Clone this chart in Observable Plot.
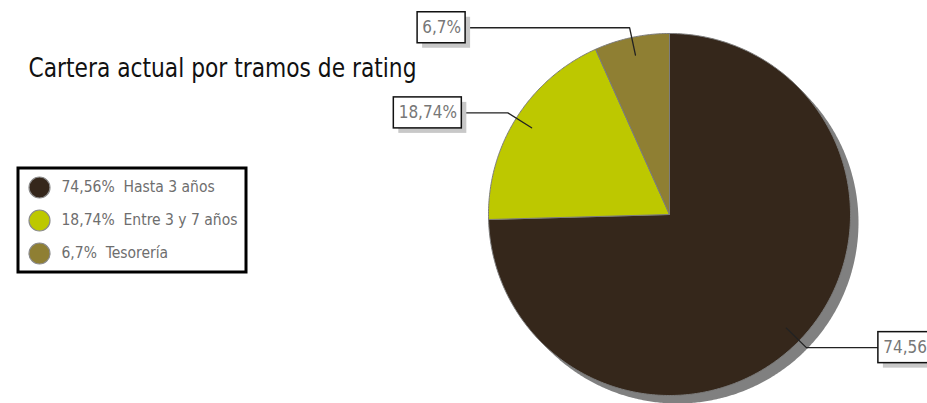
<!DOCTYPE html>
<html>
<head>
<meta charset="utf-8">
<script src="https://cdn.jsdelivr.net/npm/d3@7"></script>
<script src="https://cdn.jsdelivr.net/npm/@observablehq/plot@0.6"></script>
<style>
  html, body { margin: 0; padding: 0; background: #fff; }
  #chart { width: 927px; height: 403px; overflow: hidden; }
</style>
</head>
<body>
<div id="chart"></div>
<script>
// ---- data ----
const title = "Cartera actual por tramos de rating";
const categories = ["Hasta 3 años", "Entre 3 y 7 años", "Tesorería"];
const values = [74.56, 18.74, 6.7];
const valueLabels = ["74,56%", "18,74%", "6,7%"];
const colors = ["#35271b", "#bdc800", "#8f7f33"];

// ---- layout ----
const W = 927, H = 403;
const cx = 669, cy = 214, R = 181;
const leaderLen = [72, 46, 164];          // horizontal leader length
const leaderSide = [1, -1, -1];           // label on right (+1) or left (-1)
const boxW = [68, 68, 48], boxH = 31;
const font = "'DejaVu Sans Condensed', 'Open Sans', sans-serif";

const total = d3.sum(values);
let acc = 0;
const slices = values.map((v, i) => {
  const a0 = acc / total * 2 * Math.PI;
  acc += v;
  const a1 = acc / total * 2 * Math.PI;
  return {cat: categories[i], value: v, label: valueLabels[i], a0, a1, mid: (a0 + a1) / 2, i};
});
const pt = (a, r) => ({x: cx + r * Math.sin(a), y: cy - r * Math.cos(a)});

// slice polygons
const slicePts = [];
for (const s of slices) {
  const n = Math.max(2, Math.ceil((s.a1 - s.a0) / (Math.PI / 360)));
  slicePts.push({cat: s.cat, ...pt(0, 0)});
  for (let k = 0; k <= n; k++) slicePts.push({cat: s.cat, ...pt(s.a0 + (s.a1 - s.a0) * k / n, R)});
  slicePts.push({cat: s.cat, ...pt(0, 0)});
}
// shadow disc
const shadowPts = d3.range(0, 721).map(k => pt(k / 720 * 2 * Math.PI, R));

// leaders and label boxes
const leaderPts = [], boxes = [];
for (const s of slices) {
  const p0 = pt(s.mid, R * 0.9), p1 = pt(s.mid, R * 1.055);
  const ex = p1.x + leaderSide[s.i] * leaderLen[s.i];
  leaderPts.push({cat: s.cat, ...p0}, {cat: s.cat, ...p1}, {cat: s.cat, x: ex, y: p1.y});
  const x1 = leaderSide[s.i] > 0 ? ex : ex - boxW[s.i];
  const x2 = x1 + boxW[s.i];
  boxes.push({label: s.label, x1, x2, y1: p1.y - boxH / 2, y2: p1.y + boxH / 2, xm: (x1 + x2) / 2, ym: p1.y});
}

// legend
const legend = categories.map((c, i) => ({cat: c, text: `${valueLabels[i]}  ${c}`, row: i}));
const legX = 39, legY0 = 187, legDy = 33;

const chart = Plot.plot({
  width: W, height: H,
  margin: 0,
  x: {domain: [0, W], range: [0, W], axis: null},
  y: {domain: [0, H], range: [0, H], axis: null},
  color: {domain: categories, range: colors},
  style: {fontFamily: font, background: "#fff"},
  marks: [
    // title
    Plot.text([title], {x: 28, y: 68, text: d => d, textAnchor: "start", fontSize: 27, fill: "#111", fontFamily: font, className: "ttl"}),
    // legend box
    Plot.rect([0], {x1: 18, x2: 246, y1: 168, y2: 272, fill: "#fff", stroke: "#000", strokeWidth: 3}),
    Plot.dot(legend, {x: legX, y: d => legY0 + d.row * legDy, r: 10.5, fill: "cat", stroke: "#8a8a8a", strokeWidth: 1.2}),
    Plot.text(legend, {x: 61, y: d => legY0 + d.row * legDy, text: "text", textAnchor: "start", fontSize: 15.5, fill: "#6e6e6e", fontFamily: font}),
    // pie shadow
    Plot.line(shadowPts, {x: "x", y: "y", fill: "#808080", stroke: "none", dx: 8, dy: 8}),
    // slices
    Plot.line(slicePts, {x: "x", y: "y", z: "cat", fill: "cat", stroke: "#7c7c7c", strokeWidth: 1, strokeLinejoin: "miter"}),
    // leaders
    Plot.line(leaderPts, {x: "x", y: "y", z: "cat", stroke: "#222", strokeWidth: 1.3}),
    // label boxes
    Plot.rect(boxes, {x1: "x1", x2: "x2", y1: "y1", y2: "y2", fill: "#c8c8c8", dx: 5, dy: 5}),
    Plot.rect(boxes, {x1: "x1", x2: "x2", y1: "y1", y2: "y2", fill: "#fff", stroke: "#111", strokeWidth: 1.5}),
    Plot.text(boxes, {x: "xm", y: "ym", text: "label", fontSize: 17, fill: "#777", fontFamily: font})
  ]
});
// condense title to the reference's width
chart.querySelectorAll(".ttl text").forEach(t => {
  t.setAttribute("textLength", 388);
  t.setAttribute("lengthAdjust", "spacingAndGlyphs");
});
document.getElementById("chart").appendChild(chart);
</script>
</body>
</html>
